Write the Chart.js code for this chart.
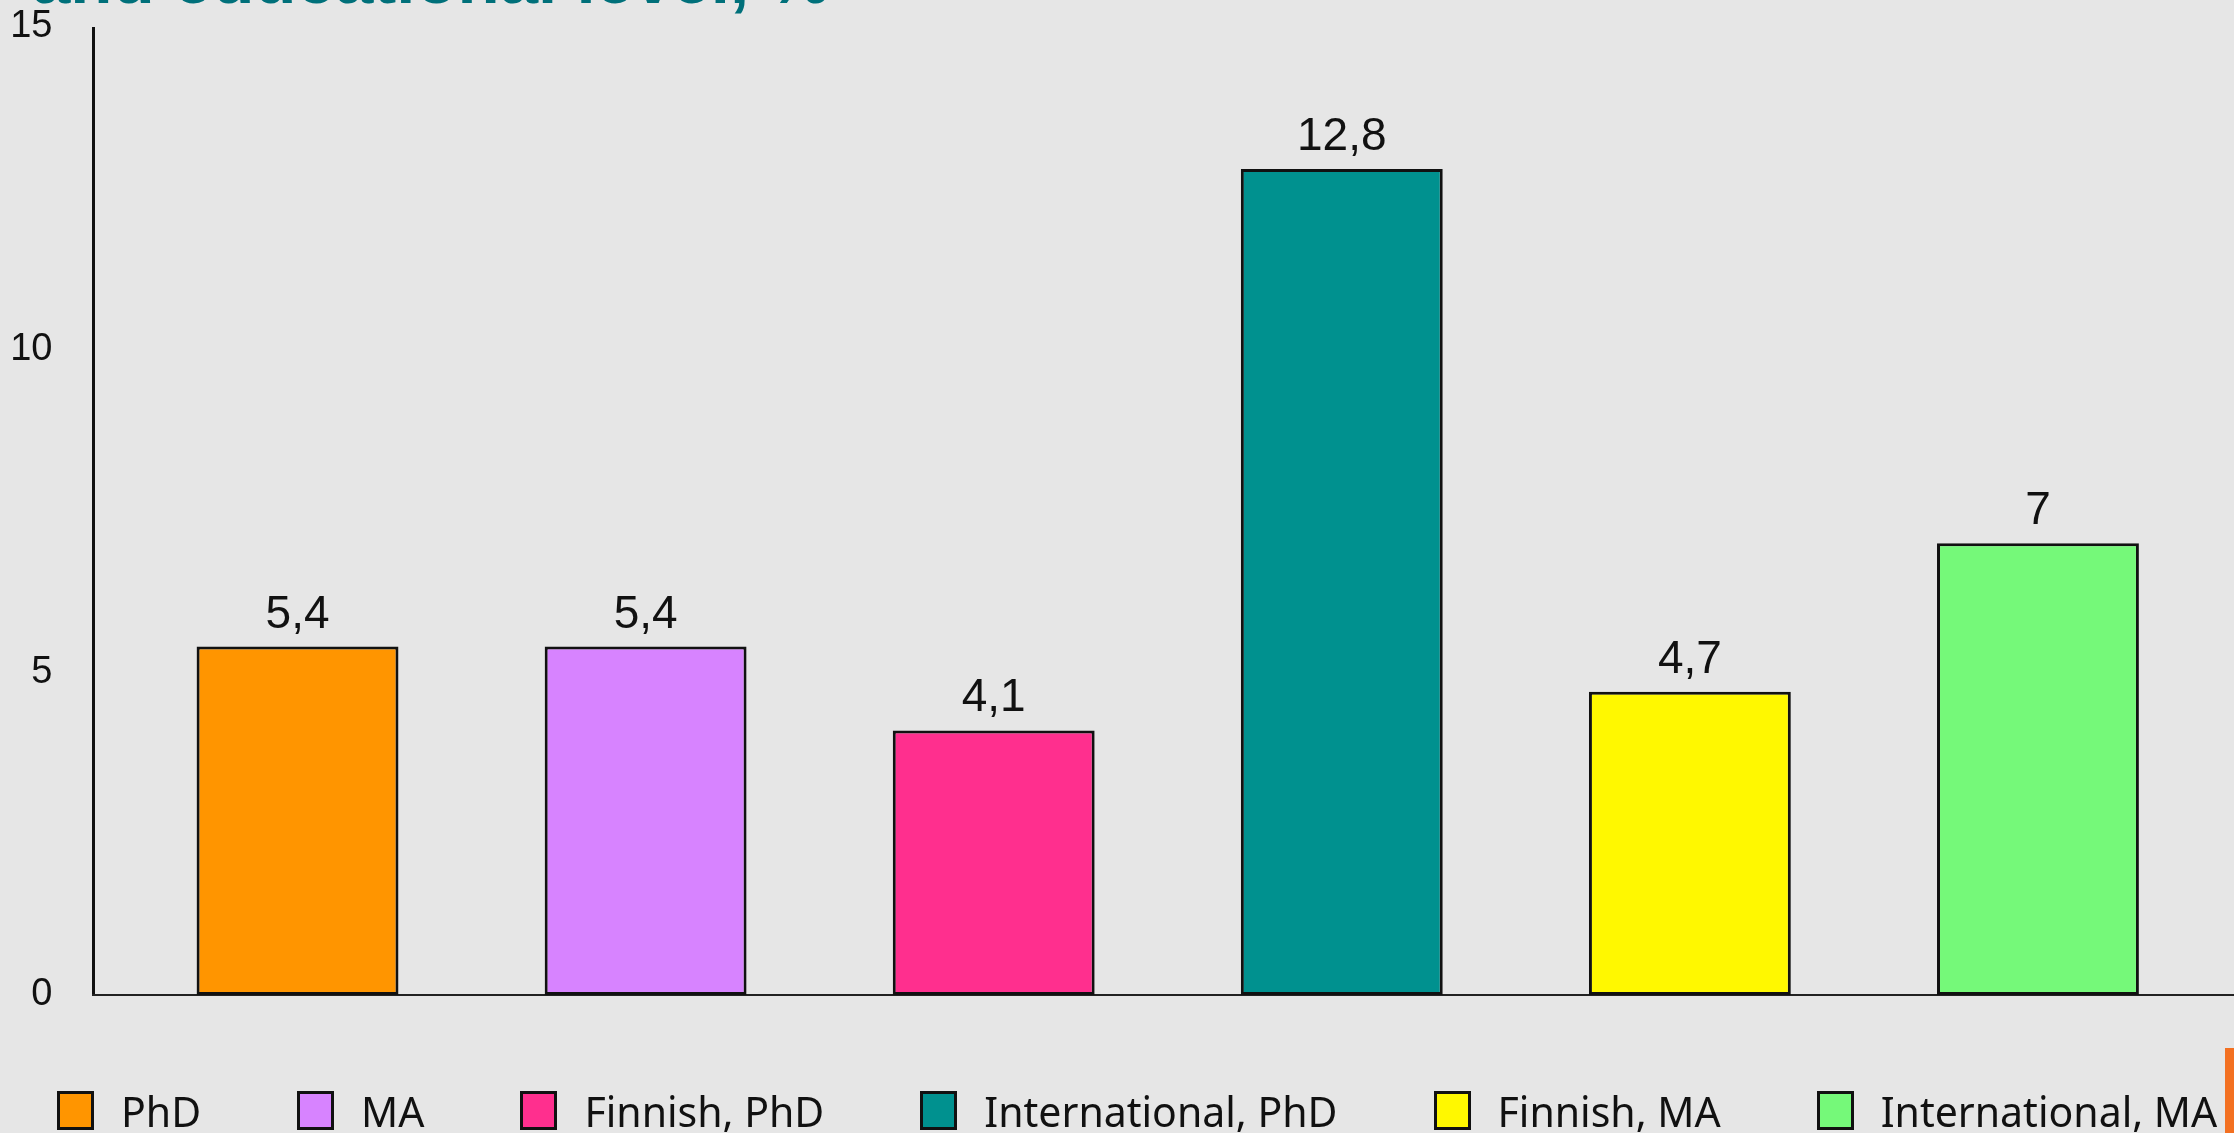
<!DOCTYPE html>
<html>
<head>
<meta charset="utf-8">
<script src="https://cdn.jsdelivr.net/npm/chart.js@4"></script>
<style>
  html, body {
    margin: 0;
    padding: 0;
    background: #e6e6e6;
    overflow: hidden;
  }
  .wrap {
    position: relative;
    width: 2234px;
    height: 1133px;
    overflow: hidden;
  }
  #chart {
    position: absolute;
    left: 0;
    top: 0;
  }
  .title {
    position: absolute;
    left: 32px;
    top: -55px;
    font: bold 69px "Liberation Sans", Arial, sans-serif;
    line-height: 70px;
    color: #00707a;
    white-space: nowrap;
  }
  .legend {
    position: absolute;
    left: 57px;
    top: 1091px;
    height: 39px;
    display: flex;
    align-items: center;
    font: 41px "Noto Sans", sans-serif;
    color: #111;
    white-space: nowrap;
  }
  .legend-item {
    display: flex;
    align-items: center;
    margin-right: 96px;
  }
  .legend-box {
    width: 31px;
    height: 33px;
    border: 3px solid #111;
    margin-right: 27px;
  }
  .accent {
    position: absolute;
    left: 2225px;
    top: 1048px;
    width: 9px;
    height: 85px;
    background: #f37021;
  }
</style>
</head>
<body>
<div class="wrap">
  <div class="title">and educational level, %</div>
  <canvas id="chart" width="2234" height="1133"></canvas>
  <div class="legend" id="legend"></div>
  <div class="accent"></div>
</div>
<script>
const categories = ["PhD", "MA", "Finnish, PhD", "International, PhD", "Finnish, MA", "International, MA"];
const values = [5.4, 5.4, 4.1, 12.8, 4.7, 7];
const barColors = ["#ff9500", "#d783ff", "#ff2f8e", "#00918f", "#fff800", "#75f979"];
const yTicks = [0, 5, 10, 15];

const chartCanvas = document.querySelector("#chart");
const legendEl = document.querySelector("#legend");

/* Axis lines: y axis sits a bit left of the first category, x axis runs to the edge */

const axisLines = {
    id: "axisLines",
    beforeDatasetsDraw(chart) {
        const ctx = chart.ctx;
        const area = chart.chartArea;
        const yScale = chart.scales.y;
        const axisX = area.left - 30;
        const zeroY = yScale.getPixelForValue(0);

        ctx.save();
        ctx.strokeStyle = "#111";
        ctx.lineWidth = 3;
        ctx.beginPath();
        ctx.moveTo(axisX, yScale.getPixelForValue(15));
        ctx.lineTo(axisX, zeroY);
        ctx.stroke();

        ctx.lineWidth = 2;
        ctx.strokeStyle = "#222";
        ctx.beginPath();
        ctx.moveTo(axisX - 1.5, zeroY);
        ctx.lineTo(chart.width, zeroY);
        ctx.stroke();
        ctx.restore();
    }
};

/* Value labels above bars */

const valueLabels = {
    id: "valueLabels",
    afterDatasetsDraw(chart) {
        const ctx = chart.ctx;
        const meta = chart.getDatasetMeta(0);

        ctx.save();
        ctx.font = '46px "Liberation Sans", Arial, sans-serif';
        ctx.fillStyle = "#111";
        ctx.textAlign = "center";
        ctx.textBaseline = "alphabetic";
        meta.data.forEach((bar, i) => {
            const text = String(values[i]).replace(".", ",");
            ctx.fillText(text, bar.x, bar.y - 19);
        });
        ctx.restore();
    }
};

new Chart(chartCanvas, {
    type: "bar",
    data: {
        labels: categories,
        datasets: [
            {
                label: "Share",
                data: values,
                backgroundColor: barColors,
                borderColor: "#111",
                borderWidth: 3,
                borderSkipped: false,
                barPercentage: 0.58,
                categoryPercentage: 1
            }
        ]
    },
    options: {
        responsive: false,
        animation: false,
        layout: {
            padding: { top: 27, right: 22, bottom: 138, left: 0 }
        },
        plugins: {
            legend: { display: false },
            tooltip: { enabled: false }
        },
        scales: {
            x: {
                display: false
            },
            y: {
                min: 0,
                max: 15,
                afterBuildTicks(scale) {
                    scale.ticks = yTicks.map(v => ({ value: v }));
                },
                afterFit(scale) {
                    // wide gap between labels and plot, but no extra vertical padding
                    scale.width = 123.5;
                    scale.paddingTop = 0;
                    scale.paddingBottom = 0;
                },
                grid: { display: false, drawTicks: false },
                border: { display: false },
                ticks: {
                    padding: 71,
                    color: "#111",
                    font: { family: "Liberation Sans", size: 38 }
                }
            }
        }
    },
    plugins: [axisLines, valueLabels]
});

/* Legend */

categories.forEach((name, i) => {
    const item = document.createElement("div");
    item.classList.add("legend-item");
    item.innerHTML = `
        <span class="legend-box" style="background:${barColors[i]}"></span>
        <span>${name}</span>
    `;
    legendEl.appendChild(item);
});
</script>
</body>
</html>
